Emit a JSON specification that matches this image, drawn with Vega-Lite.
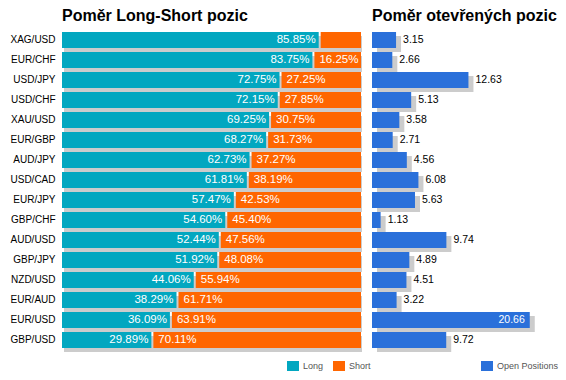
{
  "$schema": "https://vega.github.io/schema/vega-lite/v6.json",
  "background": "white",
  "padding": {"left": 0, "top": 8, "right": 0, "bottom": 0},
  "bounds": "flush",
  "spacing": 11,
  "config": {
    "view": {"stroke": null},
    "title": {"font": "Liberation Sans", "fontSize": 16, "fontWeight": "bold", "anchor": "start", "frame": "group", "color": "#000000", "offset": 6}
  },
  "datasets": {
    "fx": [
      {"pair": "XAG/USD", "long": 0.8585, "short": 0.1415, "open": 3.15},
      {"pair": "EUR/CHF", "long": 0.8375, "short": 0.1625, "open": 2.66},
      {"pair": "USD/JPY", "long": 0.7275, "short": 0.2725, "open": 12.63},
      {"pair": "USD/CHF", "long": 0.7215, "short": 0.2785, "open": 5.13},
      {"pair": "XAU/USD", "long": 0.6925, "short": 0.3075, "open": 3.58},
      {"pair": "EUR/GBP", "long": 0.6827, "short": 0.3173, "open": 2.71},
      {"pair": "AUD/JPY", "long": 0.6273, "short": 0.3727, "open": 4.56},
      {"pair": "USD/CAD", "long": 0.6181, "short": 0.3819, "open": 6.08},
      {"pair": "EUR/JPY", "long": 0.5747, "short": 0.4253, "open": 5.63},
      {"pair": "GBP/CHF", "long": 0.5460, "short": 0.4540, "open": 1.13},
      {"pair": "AUD/USD", "long": 0.5244, "short": 0.4756, "open": 9.74},
      {"pair": "GBP/JPY", "long": 0.5192, "short": 0.4808, "open": 4.89},
      {"pair": "NZD/USD", "long": 0.4406, "short": 0.5594, "open": 4.51},
      {"pair": "EUR/AUD", "long": 0.3829, "short": 0.6171, "open": 3.22},
      {"pair": "EUR/USD", "long": 0.3609, "short": 0.6391, "open": 20.66},
      {"pair": "GBP/USD", "long": 0.2989, "short": 0.7011, "open": 9.72}
    ]
  },
  "resolve": {"scale": {"color": "independent", "y": "independent", "x": "independent"}, "legend": {"color": "independent"}},
  "hconcat": [
    {
      "title": "Poměr Long-Short pozic",
      "width": 299,
      "height": 320,
      "data": {"name": "fx"},
      "encoding": {
        "y": {
          "field": "pair", "type": "nominal", "sort": null,
          "scale": {"paddingInner": 0.2, "paddingOuter": 0.1},
          "axis": {"title": null, "domain": false, "ticks": false, "tickSize": 0, "labelPadding": 7, "labelFont": "Liberation Sans", "labelFontSize": 10, "labelColor": "#000000", "minExtent": 62, "maxExtent": 62}
        }
      },
      "layer": [
        {
          "mark": {"type": "bar", "color": "#CCCCCC", "xOffset": 2, "x2Offset": 1, "yOffset": 4},
          "encoding": {
            "x": {"datum": 0, "type": "quantitative", "scale": {"domain": [0, 1]}, "axis": null},
            "x2": {"datum": 1}
          }
        },
        {
          "mark": {"type": "bar"},
          "encoding": {
            "x": {"field": "long", "type": "quantitative"},
            "x2": {"datum": 0},
            "color": {
              "datum": "Long",
              "scale": {"domain": ["Long", "Short"], "range": ["#02A7C0", "#FF6600"]},
              "legend": {"orient": "none", "legendX": 225, "legendY": 330, "direction": "horizontal", "title": null, "symbolType": "M-1,-0.8333H1V0.8333H-1Z", "symbolSize": 144, "symbolStrokeWidth": 0, "labelFont": "Liberation Sans Narrow, Liberation Sans", "labelFontSize": 9, "labelColor": "#555555", "labelOffset": 4, "columnPadding": 9, "padding": 0}
            }
          }
        },
        {
          "mark": {"type": "bar", "xOffset": 2},
          "encoding": {
            "x": {"field": "long", "type": "quantitative"},
            "x2": {"datum": 1},
            "color": {"datum": "Short"}
          }
        },
        {
          "mark": {"type": "text", "align": "right", "baseline": "middle", "dx": -3, "color": "white", "font": "Liberation Sans", "fontSize": 11.5},
          "encoding": {
            "x": {"field": "long", "type": "quantitative"},
            "text": {"field": "long", "type": "quantitative", "format": ".2%"}
          }
        },
        {
          "transform": [{"filter": "datum.short >= 0.15"}],
          "mark": {"type": "text", "align": "left", "baseline": "middle", "dx": 7, "color": "white", "font": "Liberation Sans", "fontSize": 11.5},
          "encoding": {
            "x": {"field": "long", "type": "quantitative"},
            "text": {"field": "short", "type": "quantitative", "format": ".2%"}
          }
        }
      ]
    },
    {
      "title": "Poměr otevřených pozic",
      "width": 168,
      "height": 320,
      "data": {"name": "fx"},
      "encoding": {
        "y": {
          "field": "pair", "type": "nominal", "sort": null,
          "scale": {"paddingInner": 0.2, "paddingOuter": 0.1},
          "axis": null
        }
      },
      "layer": [
        {
          "mark": {"type": "bar", "color": "#CCCCCC", "xOffset": 5, "x2Offset": 2, "yOffset": 4},
          "encoding": {
            "x": {"field": "open", "type": "quantitative", "scale": {"domain": [0, 20.66]}, "axis": null}
          }
        },
        {
          "mark": {"type": "bar"},
          "encoding": {
            "x": {"field": "open", "type": "quantitative"},
            "color": {
              "datum": "Open Positions",
              "scale": {"domain": ["Open Positions"], "range": ["#2A70DA"]},
              "legend": {"orient": "none", "legendX": 109, "legendY": 330, "direction": "horizontal", "title": null, "symbolType": "M-1,-0.8333H1V0.8333H-1Z", "symbolSize": 144, "symbolStrokeWidth": 0, "labelFont": "Liberation Sans Narrow, Liberation Sans", "labelFontSize": 9, "labelColor": "#555555", "labelOffset": 4, "padding": 0}
            }
          }
        },
        {
          "transform": [{"filter": "datum.open < 15"}],
          "mark": {"type": "text", "align": "left", "baseline": "middle", "dx": 7, "color": "#000000", "font": "Liberation Sans", "fontSize": 10.5},
          "encoding": {
            "x": {"field": "open", "type": "quantitative"},
            "text": {"field": "open", "type": "quantitative", "format": ".2f"}
          }
        },
        {
          "transform": [{"filter": "datum.open >= 15"}],
          "mark": {"type": "text", "align": "right", "baseline": "middle", "dx": -5, "color": "white", "font": "Liberation Sans", "fontSize": 10.5},
          "encoding": {
            "x": {"field": "open", "type": "quantitative"},
            "text": {"field": "open", "type": "quantitative", "format": ".2f"}
          }
        }
      ]
    }
  ]
}
